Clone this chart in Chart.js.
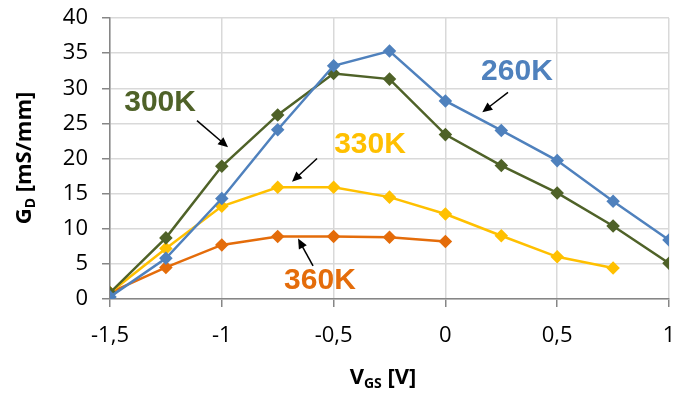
<!DOCTYPE html>
<html>
<head>
<meta charset="utf-8">
<script src="https://cdn.jsdelivr.net/npm/chart.js@4"></script>
<style>
  html, body { margin: 0; padding: 0; background: #fff; }
  #wrap { width: 677px; height: 394px; }
</style>
</head>
<body>
<div id="wrap"><canvas id="gdChart" width="677" height="394"></canvas></div>
<script>
// gate voltage points
const vgs = [-1.5, -1.25, -1, -0.75, -0.5, -0.25, 0, 0.25, 0.5, 0.75, 1];
// transconductance per temperature
const g260 = [0.3, 5.8, 14.3, 24.1, 33.2, 35.3, 28.2, 24.0, 19.7, 13.9, 8.4];
const g300 = [0.9, 8.7, 18.9, 26.2, 32.1, 31.3, 23.4, 19.0, 15.1, 10.4, 5.1];
const g330 = [0.9, 7.2, 13.2, 15.9, 15.9, 14.5, 12.1, 9.0, 6.0, 4.4];
const g360 = [0.9, 4.5, 7.7, 8.9, 8.9, 8.8, 8.2];
const yTicks = [0, 5, 10, 15, 20, 25, 30, 35, 40];
const xTicks = [-1.5, -1, -0.5, 0, 0.5, 1];

const colors = { k260: "#4F81BD", k300: "#4F6228", k330: "#FFC000", k360: "#E46C0A" };

// callout labels: text, label pos, arrow from, arrow to (data units)
const callouts = [
  { text: "260K", color: colors.k260, at: [0.32, 32.3], from: [0.28, 29.4], to: [0.165, 26.6] },
  { text: "300K", color: colors.k300, at: [-1.276, 27.9], from: [-1.111, 25.4], to: [-0.972, 21.6] },
  { text: "330K", color: colors.k330, at: [-0.337, 21.9], from: [-0.574, 20.0], to: [-0.686, 16.7] },
  { text: "360K", color: colors.k360, at: [-0.561, 2.6], from: [-0.592, 4.7], to: [-0.659, 8.6] }
];

const pts = (ys) => ys.map((y, i) => ({ x: vgs[i], y: y }));
const series = (label, ys, c) => ({
  label: label,
  data: pts(ys),
  borderColor: c,
  backgroundColor: c,
  borderWidth: 2.5,
  pointStyle: "rectRot",
  pointRadius: 5,
  pointHoverRadius: 5,
  tension: 0
});

// subscript text helper
function drawSub(ctx, parts, x, y) {
  // parts: [[text, isSub], ...], drawn centered at x
  const big = "bold 22px 'Open Sans'", small = "bold 14px 'Open Sans'";
  let w = 0;
  parts.forEach(p => {
    ctx.font = p[1] ? small : big;
    w += ctx.measureText(p[0]).width;
  });
  let cx = x - w / 2;
  parts.forEach(p => {
    ctx.font = p[1] ? small : big;
    ctx.fillText(p[0], cx, p[1] ? y + 6 : y);
    cx += ctx.measureText(p[0]).width;
  });
}

const extras = {
  id: "extras",
  afterDatasetsDraw(chart) {
    const ctx = chart.ctx;
    const xs = chart.scales.x, ys = chart.scales.y;
    ctx.save();
    callouts.forEach(c => {
      const fx = xs.getPixelForValue(c.from[0]), fy = ys.getPixelForValue(c.from[1]);
      const tx = xs.getPixelForValue(c.to[0]), ty = ys.getPixelForValue(c.to[1]);
      const ang = Math.atan2(ty - fy, tx - fx);
      const head = 10;
      ctx.strokeStyle = "#000";
      ctx.fillStyle = "#000";
      ctx.lineWidth = 1.5;
      ctx.beginPath();
      ctx.moveTo(fx, fy);
      ctx.lineTo(tx - Math.cos(ang) * head * 0.8, ty - Math.sin(ang) * head * 0.8);
      ctx.stroke();
      ctx.beginPath();
      ctx.moveTo(tx, ty);
      ctx.lineTo(tx - head * Math.cos(ang) + 4.5 * Math.sin(ang), ty - head * Math.sin(ang) - 4.5 * Math.cos(ang));
      ctx.lineTo(tx - head * Math.cos(ang) - 4.5 * Math.sin(ang), ty - head * Math.sin(ang) + 4.5 * Math.cos(ang));
      ctx.closePath();
      ctx.fill();

      ctx.fillStyle = c.color;
      ctx.font = "bold 30px 'Liberation Sans'";
      ctx.textAlign = "center";
      ctx.textBaseline = "middle";
      ctx.fillText(c.text, xs.getPixelForValue(c.at[0]), ys.getPixelForValue(c.at[1]));
    });

    // axis titles with subscripts
    ctx.fillStyle = "#000";
    ctx.textAlign = "left";
    ctx.textBaseline = "middle";
    drawSub(ctx, [["V", false], ["GS", true], [" [V]", false]], 383, 378);
    ctx.translate(25, 158);
    ctx.rotate(-Math.PI / 2);
    drawSub(ctx, [["G", false], ["D", true], [" [mS/mm]", false]], 0, 0);
    ctx.restore();
  }
};

new Chart(document.getElementById("gdChart"), {
  type: "line",
  data: {
    datasets: [
      series("260K", g260, colors.k260),
      series("300K", g300, colors.k300),
      series("330K", g330, colors.k330),
      series("360K", g360, colors.k360)
    ]
  },
  options: {
    responsive: false,
    animation: false,
    layout: { autoPadding: false, padding: { top: 18, right: 8, left: 0, bottom: 0 } },
    plugins: {
      legend: { display: false },
      tooltip: { enabled: false }
    },
    scales: {
      x: {
        type: "linear",
        min: -1.5,
        max: 1,
        afterBuildTicks: (s) => { s.ticks = xTicks.map(v => ({ value: v })); },
        afterFit: (s) => { s.height = 95; s.paddingLeft = 0; s.paddingRight = 0; },
        ticks: {
          color: "#000",
          font: { family: "'Open Sans'", size: 22 },
          padding: 16,
          maxRotation: 0,
          callback: (v) => String(v).replace(".", ",")
        },
        grid: { color: "#D9D9D9", lineWidth: 1.5, tickColor: "#868686", tickLength: 8 },
        border: { color: "#868686", width: 1.5 }
      },
      y: {
        min: 0,
        max: 40,
        afterBuildTicks: (s) => { s.ticks = yTicks.map(v => ({ value: v })); },
        afterFit: (s) => { s.width = 110; s.paddingTop = 0; s.paddingBottom = 0; },
        ticks: {
          color: "#000",
          font: { family: "'Open Sans'", size: 22 },
          padding: 14
        },
        grid: { color: "#D9D9D9", lineWidth: 1.5, tickColor: "#868686", tickLength: 8 },
        border: { color: "#868686", width: 1.5 }
      }
    }
  },
  plugins: [extras]
});
</script>
</body>
</html>
